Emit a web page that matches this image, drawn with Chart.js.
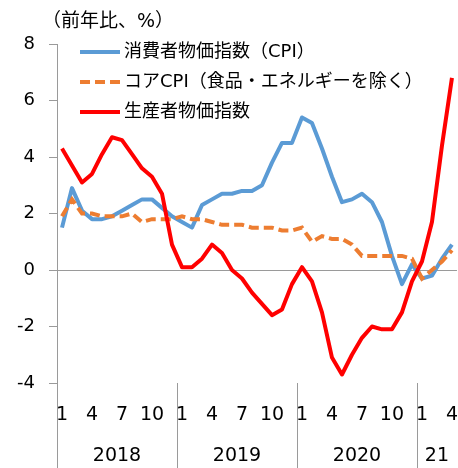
<!DOCTYPE html>
<html><head><meta charset="utf-8">
<script src="https://cdn.jsdelivr.net/npm/chart.js@4.4.0/dist/chart.umd.min.js"></script>
<style>html,body{margin:0;padding:0;background:#fff;}#wrap{width:458px;height:468px;}</style>
</head><body><div id="wrap"><canvas id="c" width="458" height="468"></canvas></div>
<script>
const categories = [
  '2018/1','2018/2','2018/3','2018/4','2018/5','2018/6','2018/7','2018/8','2018/9','2018/10','2018/11','2018/12',
  '2019/1','2019/2','2019/3','2019/4','2019/5','2019/6','2019/7','2019/8','2019/9','2019/10','2019/11','2019/12',
  '2020/1','2020/2','2020/3','2020/4','2020/5','2020/6','2020/7','2020/8','2020/9','2020/10','2020/11','2020/12',
  '2021/1','2021/2','2021/3','2021/4'
];
const tickMonths = ['1','4','7','10'];
const yearLabels = ['2018','2019','2020','21'];
const yearSpans = [12,12,12,4];
const cpi = [1.5,2.9,2.1,1.8,1.8,1.9,2.1,2.3,2.5,2.5,2.2,1.9,
  1.7,1.5,2.3,2.5,2.7,2.7,2.8,2.8,3.0,3.8,4.5,4.5,
  5.4,5.2,4.3,3.3,2.4,2.5,2.7,2.4,1.7,0.5,-0.5,0.2,
  -0.3,-0.2,0.4,0.9];
const coreCpi = [1.9,2.5,2.0,2.0,1.9,1.9,1.9,2.0,1.7,1.8,1.8,1.8,
  1.9,1.8,1.8,1.7,1.6,1.6,1.6,1.5,1.5,1.5,1.4,1.4,
  1.5,1.0,1.2,1.1,1.1,0.9,0.5,0.5,0.5,0.5,0.5,0.4,
  -0.3,0.0,0.3,0.7];
const ppi = [4.3,3.7,3.1,3.4,4.1,4.7,4.6,4.1,3.6,3.3,2.7,0.9,
  0.1,0.1,0.4,0.9,0.6,0.0,-0.3,-0.8,-1.2,-1.6,-1.4,-0.5,
  0.1,-0.4,-1.5,-3.1,-3.7,-3.0,-2.4,-2.0,-2.1,-2.1,-1.5,-0.4,
  0.3,1.7,4.4,6.8];
const seriesNames = ['消費者物価指数（CPI）','コアCPI（食品・エネルギーを除く）','生産者物価指数'];
const unitLabel = '（前年比、%）';
const yMin = -4, yMax = 8, yStep = 2;

const FONT = "'DejaVu Sans','Noto Sans CJK JP',sans-serif";
const GRAY = '#9a9a9a';
const BLUE = '#5B9BD5', ORANGE = '#ED7D31', RED = '#FF0000';

const decor = {
  id: 'decor',
  afterDatasetsDraw(chart) {
    const {ctx, chartArea: a, scales: {x}} = chart;
    const H = chart.height;
    ctx.save();
    ctx.strokeStyle = GRAY; ctx.lineWidth = 1;
    ctx.beginPath();
    ctx.moveTo(Math.round(a.left) + 0.5, a.bottom);
    ctx.lineTo(Math.round(a.left) + 0.5, H);
    ctx.stroke();
    let idx = 0;
    ctx.fillStyle = '#000';
    ctx.font = '19px ' + FONT;
    ctx.textAlign = 'center'; ctx.textBaseline = 'middle';
    yearLabels.forEach((yl, i) => {
      const start = idx, end = idx + yearSpans[i] - 1;
      const cx = (x.getPixelForValue(start) + x.getPixelForValue(end)) / 2;
      ctx.fillText(yl, cx, 456);
      if (i < yearLabels.length - 1) {
        const sx = Math.round((x.getPixelForValue(end) + x.getPixelForValue(end + 1)) / 2) + 0.5;
        ctx.beginPath(); ctx.moveTo(sx, a.bottom); ctx.lineTo(sx, H); ctx.stroke();
      }
      idx += yearSpans[i];
    });
    ctx.textAlign = 'left';
    ctx.font = '19px ' + FONT;
    ctx.fillText(unitLabel, 42, 22);
    ctx.font = '18px ' + FONT;
    const rows = [52, 82, 112];
    chart.data.datasets.forEach((ds, i) => {
      const y = rows[i];
      ctx.strokeStyle = ds.borderColor; ctx.lineWidth = ds.borderWidth;
      ctx.setLineDash(ds.borderDash || []);
      ctx.beginPath(); ctx.moveTo(80, y); ctx.lineTo(120, y); ctx.stroke();
      ctx.setLineDash([]);
      ctx.fillStyle = '#000';
      ctx.fillText(ds.label, 124, y);
    });
    ctx.restore();
  }
};

new Chart(document.getElementById('c'), {
  type: 'line',
  data: {
    labels: categories,
    datasets: [
      {label: seriesNames[0], data: cpi, borderColor: BLUE, borderWidth: 4, pointRadius: 0, tension: 0, order: 3, borderJoinStyle: 'round'},
      {label: seriesNames[1], data: coreCpi, borderColor: ORANGE, borderWidth: 4, borderDash: [10, 5], pointRadius: 0, tension: 0, order: 2},
      {label: seriesNames[2], data: ppi, borderColor: RED, borderWidth: 4, pointRadius: 0, tension: 0, order: 1, borderJoinStyle: 'round'}
    ]
  },
  options: {
    responsive: false, animation: false, devicePixelRatio: 1,
    layout: {padding: {top: 44, right: 0, left: 0, bottom: 0}},
    plugins: {legend: {display: false}, tooltip: {enabled: false}, title: {display: false}},
    scales: {
      x: {
        offset: true,
        grid: {display: false, drawTicks: true, tickLength: 21, tickColor: 'rgba(0,0,0,0)'},
        border: {display: false},
        ticks: {
          autoSkip: false, maxRotation: 0, minRotation: 0, padding: 0,
          color: '#000', font: {size: 19, family: FONT},
          callback: function(v, i) { const m = categories[i].split('/')[1]; return tickMonths.includes(m) ? m : ''; }
        },
        afterFit: s => { s.height = 85; }
      },
      y: {
        min: yMin, max: yMax,
        grid: {color: c => (c.tick && c.tick.value === 0) ? GRAY : 'rgba(0,0,0,0)', tickColor: GRAY, tickLength: 8, lineWidth: 1},
        border: {color: GRAY, width: 1},
        ticks: {stepSize: yStep, padding: 14, color: '#000', font: {size: 18, family: FONT}},
        afterFit: s => { s.width = 57; }
      }
    }
  },
  plugins: [decor]
});
</script></body></html>
